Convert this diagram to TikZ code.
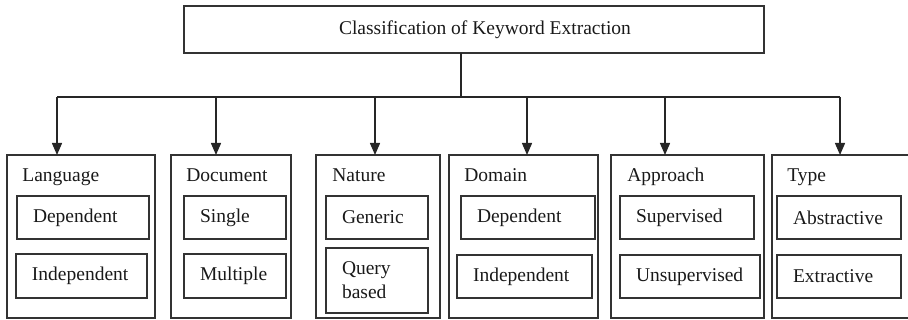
\documentclass[tikz,border=0pt]{standalone}
\usepackage{fontspec}
\setmainfont{Liberation Serif}
\usepackage{tikz}
\usetikzlibrary{positioning, arrows.meta}

\begin{document}
\begin{tikzpicture}[x=0.5pt, y=-0.5pt,
  every node/.style={font=\fontsize{9.75}{12}\selectfont, text=black!90},
  box/.style={draw=black!80, line width=0.8pt, inner sep=0pt, outer sep=0pt},
  group/.style={box, minimum width=#1, minimum height=81.5pt},
  item/.style={box, anchor=west, inner xsep=8pt, text width=#1, align=left, minimum height=21.5pt},
  cat/.style={anchor=base west, inner sep=0pt},
  arrow/.style={-{Triangle[length=6pt, width=5pt]}, draw=black!85, line width=0.7pt}]
\useasboundingbox (0,0) rectangle (908,320);

% root
\node[box, minimum width=290pt, minimum height=23.5pt] (title) at (474,29.5)
  {\hspace{11pt}Classification of Keyword Extraction};

% the six groups
\node[group=74pt]   (lang)  at (81,236.5)  {};
\node[group=60pt]   (doc)   at (231,236.5) {};
\node[group=62pt]   (nat)   at (378,236.5) {};
\node[group=74.5pt] (dom)   at (523.5,236.5) {};
\node[group=76.5pt] (appr)  at (687.5,236.5) {};
\node[group=72pt]   (type)  at (844,236.5) {};

\node[cat] (langT) at (22,182)  {Language};
\node[cat] (docT)  at (186,182) {Document};
\node[cat] (natT)  at (332,182) {Nature};
\node[cat] (domT)  at (464,182) {Domain};
\node[cat] (apprT) at (627,182) {Approach};
\node[cat] (typeT) at (787,182) {Type};

% entries
\node[item=50pt]   (langDep)   at (17,217.5)  {Dependent};
\node[item=49.5pt, minimum height=22pt] (langInd) at (16,276) {Independent};
\node[item=35pt]   (docSingle) at (184,217.5) {Single};
\node[item=35pt, minimum height=22pt] (docMulti) at (184,276) {Multiple};
\node[item=35pt]   (natGen)    at (326,217.5) {Generic};
\node[item=35pt, minimum height=32.5pt] (natQuery) at (326,280.5) {Query\\based};
\node[item=51pt]   (domDep)    at (461,217.5) {Dependent};
\node[item=51.5pt] (domInd)    at (457,276.5) {Independent};
\node[item=51pt]   (apprSup)   at (620,217.5) {Supervised};
\node[item=54pt]   (apprUns)   at (620,276.5) {Unsupervised};
\node[item=46pt]   (typeAbs)   at (777,217.5) {Abstractive};
\node[item=46pt]   (typeExt)   at (777,276.5) {Extractive};

% connectors
\coordinate (hub) at (461,97);
\draw[draw=black!85, line width=0.7pt] (title.south -| hub) -- (hub);
\foreach \bx/\bn in {57/lang, 216/doc, 375/nat, 527/dom, 665/appr, 840/type} {
  \coordinate (t\bn) at (\bx,97);
  \draw[arrow] (t\bn) -- (t\bn |- \bn.north);
}
\draw[draw=black!85, line width=0.7pt] (tlang) -- (ttype);
\end{tikzpicture}
\end{document}
